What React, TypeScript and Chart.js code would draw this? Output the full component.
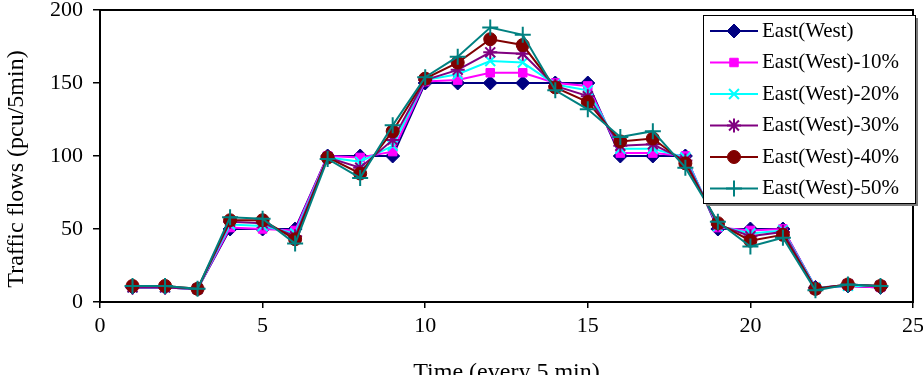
import React, { useEffect, useRef } from 'react';
import { Chart, registerables } from 'chart.js';
import { drawPoint } from 'chart.js/helpers';

Chart.register(...registerables);

const timeSlots = [1, 2, 3, 4, 5, 6, 7, 8, 9, 10, 11, 12, 13, 14, 15, 16, 17, 18, 19, 20, 21, 22, 23, 24];

const eastWest = [10, 10, 9, 50, 50, 50, 100, 100, 100, 150, 150, 150, 150, 150, 150, 100, 100, 100, 50, 50, 50, 10, 11, 10];
const eastWest10 = [10, 10, 9, 51, 50, 49, 100, 99, 103, 151, 152, 157, 157, 150, 148, 102, 102, 100, 51, 49, 50, 10, 11, 10];
const eastWest20 = [10, 10, 9, 53, 52, 47, 99, 96, 107, 152, 156, 165, 164, 149, 145, 105, 105, 99, 52, 47, 49, 10, 11, 11];
const eastWest30 = [10, 10, 9, 55, 54, 45, 99, 92, 111, 152, 159, 171, 170, 148, 141, 107, 108, 97, 53, 45, 48, 9, 12, 11];
const eastWest40 = [11, 11, 9, 56, 56, 43, 99, 88, 117, 153, 164, 180, 176, 147, 137, 110, 112, 95, 54, 42, 46, 9, 12, 11];
const eastWest50 = [11, 11, 9, 58, 57, 40, 98, 85, 121, 154, 168, 188, 183, 145, 132, 113, 117, 92, 55, 38, 44, 8, 12, 11];

const seriesLabels = ['East(West)', 'East(West)-10%', 'East(West)-20%', 'East(West)-30%', 'East(West)-40%', 'East(West)-50%'];
const seriesValues = [eastWest, eastWest10, eastWest20, eastWest30, eastWest40, eastWest50];
const seriesColors = ['#000080', '#ff00ff', '#00ffff', '#800080', '#800000', '#008080'];
const seriesMarkers = ['rectRot', 'rect', 'crossRot', 'star', 'circle', 'cross'];
const markerRadius = [7, 6, 7, 7, 6.5, 8];

const xTitle = 'Time (every 5 min)';
const yTitle = 'Traffic flows (pcu/5min)';

const FONT = "'Liberation Serif', 'Times New Roman', serif";

const frameAndLegend = {
  id: 'frameAndLegend',
  afterDatasetsDraw(chart: any) {
    const { ctx, chartArea } = chart;
    ctx.save();
    ctx.strokeStyle = '#000';
    ctx.lineWidth = 2;
    ctx.strokeRect(chartArea.left, chartArea.top, chartArea.right - chartArea.left, chartArea.bottom - chartArea.top);
    ctx.restore();
  },
  afterDraw(chart: any) {
    const { ctx, chartArea } = chart;
    // y-axis title
    ctx.save();
    ctx.translate(17, (chartArea.top + chartArea.bottom) / 2 + 13);
    ctx.rotate(-Math.PI / 2);
    ctx.fillStyle = '#000';
    ctx.font = `24px ${FONT}`;
    ctx.textAlign = 'center';
    ctx.textBaseline = 'middle';
    ctx.fillText(yTitle, 0, 0);
    ctx.restore();

    // legend
    const x0 = chartArea.right - 210;
    const y0 = chartArea.top + 5;
    const w = 212;
    const h = 188;
    ctx.save();
    ctx.fillStyle = '#7a7a7a';
    ctx.fillRect(x0 + 3, y0 + 3, w, h);
    ctx.fillStyle = '#fff';
    ctx.fillRect(x0, y0, w, h);
    ctx.strokeStyle = '#000';
    ctx.lineWidth = 1;
    ctx.strokeRect(x0 + 0.5, y0 + 0.5, w, h);
    chart.data.datasets.forEach((ds: any, i: number) => {
      const cy = y0 + 16 + i * 31.5;
      ctx.strokeStyle = ds.borderColor;
      ctx.lineWidth = 2;
      ctx.beginPath();
      ctx.moveTo(x0 + 7, cy);
      ctx.lineTo(x0 + 55, cy);
      ctx.stroke();
      ctx.fillStyle = ds.pointBackgroundColor;
      ctx.strokeStyle = ds.pointBorderColor;
      ctx.lineWidth = ds.pointBorderWidth;
      drawPoint(ctx, { pointStyle: ds.pointStyle, radius: ds.pointRadius, borderWidth: ds.pointBorderWidth, rotation: 0 }, x0 + 31, cy);
      ctx.fillStyle = '#000';
      ctx.font = `21px ${FONT}`;
      ctx.textBaseline = 'middle';
      ctx.textAlign = 'left';
      ctx.fillText(ds.label, x0 + 59, cy);
    });
    ctx.restore();
  },
};

export default function App() {
  const canvasRef = useRef<HTMLCanvasElement | null>(null);

  useEffect(() => {
    document.body.style.margin = '0';
    const canvas = canvasRef.current;
    if (!canvas) return;
    const datasets = seriesLabels.map((label, i) => ({
      label,
      data: timeSlots.map((t, j) => ({ x: t, y: seriesValues[i][j] })),
      borderColor: seriesColors[i],
      backgroundColor: seriesColors[i],
      pointBackgroundColor: seriesColors[i],
      pointBorderColor: seriesColors[i],
      pointStyle: seriesMarkers[i],
      pointRadius: markerRadius[i],
      pointBorderWidth: i === 2 || i === 3 || i === 5 ? 2 : 1,
      borderWidth: 2,
      tension: 0,
      fill: false,
      order: seriesLabels.length - i,
    }));
    const chart = new Chart(canvas, {
      type: 'line',
      data: { datasets },
      plugins: [frameAndLegend],
      options: {
        responsive: false,
        animation: false,
        layout: { padding: { top: 7, right: 10, left: 0, bottom: 0 } },
        plugins: { legend: { display: false }, tooltip: { enabled: false } },
        scales: {
          x: {
            type: 'linear',
            min: 0,
            max: 25,
            ticks: { stepSize: 5, color: '#000', font: { family: FONT, size: 22 }, padding: 5, maxRotation: 0 },
            grid: { display: true, drawOnChartArea: false, drawTicks: true, tickLength: 6, color: '#000', lineWidth: 1.5 },
            border: { display: true, color: '#000', width: 2 },
            title: { display: true, text: xTitle, color: '#000', font: { family: FONT, size: 24 }, padding: { top: 0, bottom: -12 } },
            afterFit: (scale: any) => {
              scale.height = 73;
              scale.paddingLeft = 0;
              scale.paddingRight = 0;
            },
          },
          y: {
            min: 0,
            max: 200,
            ticks: { stepSize: 50, color: '#000', font: { family: FONT, size: 22 }, padding: 10 },
            grid: { display: true, drawOnChartArea: false, drawTicks: true, tickLength: 7, color: '#000', lineWidth: 1.5 },
            border: { display: true, color: '#000', width: 2 },
            title: { display: false },
            afterFit: (scale: any) => {
              scale.width = 100;
              scale.paddingTop = 0;
              scale.paddingBottom = 0;
            },
          },
        },
      },
    });
    return () => chart.destroy();
  }, []);

  return (
    <div style={{ width: 923, height: 375 }}>
      <canvas ref={canvasRef} width={923} height={375} />
    </div>
  );
}
